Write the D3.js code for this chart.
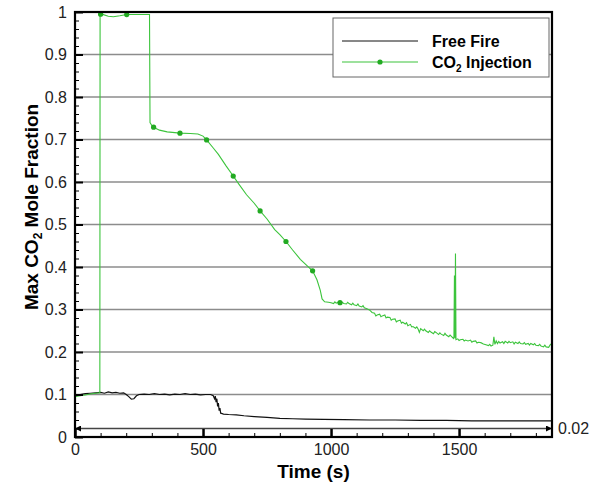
<!DOCTYPE html>
<html>
<head>
<meta charset="utf-8">
<script src="https://cdn.jsdelivr.net/npm/d3@7"></script>
<style>
body { margin: 0; background: #fff; }
svg { font-family: Arial, "Liberation Sans", sans-serif; }
</style>
</head>
<body>
<div id="chart"></div>
<script>
// values: [time (s), max CO2 mole fraction]
var freeFire = [
	[0,0.098],[20,0.1],[40,0.102],[60,0.103],[80,0.104],[100,0.105],[115,0.103],[130,0.106],
	[145,0.104],[160,0.105],[175,0.103],[190,0.104],[200,0.1],[210,0.095],[220,0.089],[230,0.09],
	[240,0.097],[250,0.1],[270,0.101],[290,0.1],[310,0.102],[330,0.1],[350,0.101],[370,0.099],
	[390,0.101],[410,0.1],[430,0.102],[450,0.1],[470,0.101],[490,0.099],[510,0.1],[530,0.1],
	[540,0.097],[545,0.09],[548,0.096],[551,0.082],[554,0.09],[557,0.072],[560,0.08],[563,0.062],
	[566,0.068],[569,0.056],[575,0.055],[580,0.054],[600,0.053],[630,0.052],[660,0.05],[700,0.048],
	[750,0.046],[800,0.044],[850,0.043],[900,0.042],[970,0.0415],[1050,0.041],[1150,0.04],
	[1250,0.04],[1350,0.039],[1450,0.039],[1550,0.038],[1650,0.038],[1750,0.038],[1860,0.038]
];

var co2Injection = [
	[0,0.095],[20,0.097],[40,0.099],[60,0.101],[80,0.103],[97,0.104],[98,0.997],[105,0.995],
	[130,0.99],[150,0.989],[175,0.991],[202,0.994],[240,0.994],[270,0.994],[291,0.994],[293,0.74],
	[300,0.733],[307,0.729],[330,0.722],[360,0.718],[410,0.715],[450,0.714],[480,0.713],[500,0.708],
	[514,0.699],[540,0.68],[560,0.665],[590,0.638],[618,0.614],[640,0.595],[670,0.57],[700,0.55],
	[723,0.532],[750,0.513],[780,0.488],[800,0.476],[824,0.46],[850,0.44],[880,0.418],[905,0.404],
	[928,0.391],[945,0.37],[958,0.345],[965,0.325],[975,0.318],[990,0.317],[1000,0.316],
	[1010,0.314],[1015,0.318],[1020,0.315],[1030,0.317],[1035,0.313],[1040,0.318],[1050,0.314],
	[1060,0.313],[1065,0.317],[1070,0.314],[1080,0.311],[1085,0.315],[1090,0.311],[1100,0.309],
	[1105,0.313],[1110,0.308],[1120,0.306],[1125,0.309],[1130,0.304],[1140,0.302],[1150,0.299],
	[1155,0.296],[1160,0.293],[1170,0.291],[1175,0.285],[1180,0.287],[1190,0.289],[1195,0.283],
	[1200,0.285],[1210,0.287],[1215,0.28],[1220,0.282],[1230,0.281],[1235,0.275],[1240,0.277],
	[1250,0.278],[1255,0.271],[1260,0.273],[1270,0.275],[1275,0.268],[1280,0.27],[1290,0.266],
	[1295,0.269],[1300,0.262],[1310,0.265],[1315,0.259],[1320,0.26],[1330,0.256],[1335,0.259],
	[1340,0.254],[1345,0.246],[1350,0.255],[1360,0.25],[1365,0.254],[1370,0.25],[1380,0.246],
	[1385,0.25],[1390,0.247],[1400,0.243],[1405,0.248],[1410,0.246],[1420,0.241],[1425,0.245],
	[1430,0.242],[1440,0.239],[1445,0.244],[1450,0.24],[1460,0.236],[1465,0.24],[1470,0.237],
	[1478,0.232],[1480,0.236],[1482,0.38],[1484,0.232],[1486,0.432],[1488,0.229],[1495,0.231],
	[1500,0.227],[1505,0.229],[1515,0.23],[1520,0.226],[1525,0.228],[1535,0.226],[1545,0.228],
	[1550,0.223],[1555,0.225],[1565,0.226],[1570,0.221],[1575,0.223],[1585,0.222],[1595,0.219],
	[1605,0.217],[1615,0.215],[1620,0.218],[1625,0.214],[1632,0.216],[1636,0.236],[1640,0.218],
	[1645,0.226],[1650,0.22],[1655,0.225],[1660,0.221],[1670,0.224],[1675,0.22],[1680,0.225],
	[1690,0.221],[1695,0.225],[1700,0.222],[1710,0.224],[1715,0.219],[1720,0.223],[1730,0.22],
	[1735,0.224],[1740,0.22],[1750,0.219],[1755,0.222],[1760,0.218],[1770,0.22],[1775,0.216],
	[1780,0.22],[1790,0.217],[1795,0.22],[1800,0.216],[1810,0.215],[1815,0.218],[1820,0.214],
	[1830,0.212],[1835,0.216],[1840,0.212],[1850,0.211],[1855,0.216],[1860,0.219]
];

var co2Markers = [
	[100,0.995],[202,0.994],[307,0.729],[410,0.715],[514,0.699],[618,0.614],[723,0.532],
	[824,0.46],[928,0.391],[1035,0.316]
];

var seriesNames = ["Free Fire", "CO", "2", " Injection"];

var yTicks = [0,0.1,0.2,0.3,0.4,0.5,0.6,0.7,0.8,0.9,1];
var yTickLabels = ["0","0.1","0.2","0.3","0.4","0.5","0.6","0.7","0.8","0.9","1"];
var yMinorTicks = [0.02,0.04,0.06,0.08,0.12,0.14,0.16,0.18,0.22,0.24,0.26,0.28,0.32,0.34,0.36,0.38,
	0.42,0.44,0.46,0.48,0.52,0.54,0.56,0.58,0.62,0.64,0.66,0.68,0.72,0.74,0.76,0.78,
	0.82,0.84,0.86,0.88,0.92,0.94,0.96,0.98];
var xTicks = [0,500,1000,1500];
var xTickLabels = ["0","500","1000","1500"];
var xMinorTicks = [100,200,300,400,600,700,800,900,1100,1200,1300,1400,1600,1700,1800];
var refLevel = 0.02;
var refLabel = "0.02";

// set the dimensions and margins of the graph
var margin = {top: 12, right: 50, bottom: 45, left: 75},
	width = 602 - margin.left - margin.right,
	height = 482 - margin.top - margin.bottom;

var svg = d3.select("#chart")
  .append("svg")
	.attr("width", 602)
	.attr("height", 482)
  .append("g")
	.attr("transform", "translate(" + margin.left + "," + margin.top + ")");

var x = d3.scaleLinear().domain([0, 1863]).range([0, width]);
var y = d3.scaleLinear().domain([0, 1]).range([height, 0]);

// horizontal grid
svg.append("g")
	.selectAll("line")
	.data(yTicks.slice(1, -1))
	.join("line")
	.attr("x1", 0)
	.attr("x2", width)
	.attr("y1", function(d) { return y(d); })
	.attr("y2", function(d) { return y(d); })
	.attr("stroke", "#8c8c8c")
	.attr("stroke-width", 1.5);

// arrow line at 0.02
var defs = svg.append("defs");
defs.append("marker")
	.attr("id", "arrow")
	.attr("viewBox", "0 0 10 10")
	.attr("refX", 10)
	.attr("refY", 5)
	.attr("markerWidth", 9)
	.attr("markerHeight", 6)
	.attr("markerUnits", "userSpaceOnUse")
	.attr("orient", "auto-start-reverse")
  .append("path")
	.attr("d", "M0,0L10,5L0,10z")
	.attr("fill", "#000");

svg.append("line")
	.attr("x1", x(0))
	.attr("x2", width)
	.attr("y1", y(refLevel))
	.attr("y2", y(refLevel))
	.attr("stroke", "#444")
	.attr("stroke-width", 1.3)
	.attr("marker-start", "url(#arrow)")
	.attr("marker-end", "url(#arrow)");

svg.append("text")
	.attr("x", width + 6)
	.attr("y", y(refLevel))
	.attr("dy", "0.35em")
	.style("font-size", "16px")
	.style("fill", "#222")
	.text(refLabel);

var line = d3.line()
	.x(function(d) { return x(d[0]); })
	.y(function(d) { return y(d[1]); });

// Free Fire
svg.append("path")
	.datum(freeFire)
	.attr("fill", "none")
	.attr("stroke", "#111")
	.attr("stroke-width", 1.2)
	.attr("d", line);

// CO2 Injection
svg.append("path")
	.datum(co2Injection)
	.attr("fill", "none")
	.attr("stroke", "#3cc43c")
	.attr("stroke-width", 1.1)
	.attr("d", line);

svg.append("g")
	.selectAll("circle")
	.data(co2Markers)
	.join("circle")
	.attr("cx", function(d) { return x(d[0]); })
	.attr("cy", function(d) { return y(d[1]); })
	.attr("r", 2.6)
	.attr("fill", "#22aa22");

// Y axis (ticks point inward)
var yAxis = svg.append("g")
	.call(d3.axisLeft(y).tickValues(yTicks).tickSize(-8).tickPadding(8)
		.tickFormat(function(d, i) { return yTickLabels[i]; }));
yAxis.select(".domain").remove();
yAxis.selectAll("line").attr("stroke-width", 2);
yAxis.selectAll("text").style("font-size", "16px").style("fill", "#222")
	.style("font-family", "Arial, 'Liberation Sans', sans-serif");

var yMinor = svg.append("g")
	.call(d3.axisLeft(y).tickValues(yMinorTicks).tickSize(-4).tickFormat(""));
yMinor.select(".domain").remove();

// X axis
var xAxis = svg.append("g")
	.attr("transform", "translate(0," + height + ")")
	.call(d3.axisBottom(x).tickValues(xTicks).tickSize(-8).tickPadding(7)
		.tickFormat(function(d, i) { return xTickLabels[i]; }));
xAxis.select(".domain").remove();
xAxis.selectAll("line").attr("stroke-width", 2.5);
xAxis.selectAll("text").style("font-size", "16px").style("fill", "#222")
	.style("font-family", "Arial, 'Liberation Sans', sans-serif");

var xMinor = svg.append("g")
	.attr("transform", "translate(0," + height + ")")
	.call(d3.axisBottom(x).tickValues(xMinorTicks).tickSize(-4).tickFormat(""));
xMinor.select(".domain").remove();

// frame
svg.append("rect")
	.attr("x", 0)
	.attr("y", 0)
	.attr("width", width)
	.attr("height", height)
	.attr("fill", "none")
	.attr("stroke", "#000")
	.attr("stroke-width", 2.2);

// legend
var legend = svg.append("g").attr("transform", "translate(258,6)");
legend.append("rect")
	.attr("width", 216)
	.attr("height", 59)
	.attr("fill", "#fff")
	.attr("stroke", "#666")
	.attr("stroke-width", 1);
legend.append("line")
	.attr("x1", 9).attr("x2", 85).attr("y1", 23).attr("y2", 23)
	.attr("stroke", "#111").attr("stroke-width", 1);
legend.append("line")
	.attr("x1", 9).attr("x2", 85).attr("y1", 44).attr("y2", 44)
	.attr("stroke", "#3cc43c").attr("stroke-width", 1.1);
legend.append("circle")
	.attr("cx", 47).attr("cy", 44).attr("r", 2.6).attr("fill", "#22aa22");
legend.append("text")
	.attr("x", 99).attr("y", 29)
	.style("font-size", "16px").style("font-weight", "bold")
	.text(seriesNames[0]);
var t2 = legend.append("text")
	.attr("x", 99).attr("y", 50)
	.style("font-size", "16px").style("font-weight", "bold");
t2.append("tspan").text(seriesNames[1]);
t2.append("tspan").attr("dy", 4).style("font-size", "10px").text(seriesNames[2]);
t2.append("tspan").attr("dy", -4).text(seriesNames[3]);

// axis titles
svg.append("text")
	.attr("x", width / 2)
	.attr("y", height + 41)
	.attr("text-anchor", "middle")
	.style("font-size", "19px")
	.style("font-weight", "bold")
	.text("Time (s)");

var yt = svg.append("text")
	.attr("transform", "translate(" + (38 - margin.left) + "," + (207 - margin.top) + ") rotate(-90)")
	.attr("text-anchor", "middle")
	.style("font-size", "19px")
	.style("font-weight", "bold");
yt.append("tspan").text("Max CO");
yt.append("tspan").attr("dy", 4).style("font-size", "12px").text("2");
yt.append("tspan").attr("dy", -4).text(" Mole Fraction");
</script>
</body>
</html>
